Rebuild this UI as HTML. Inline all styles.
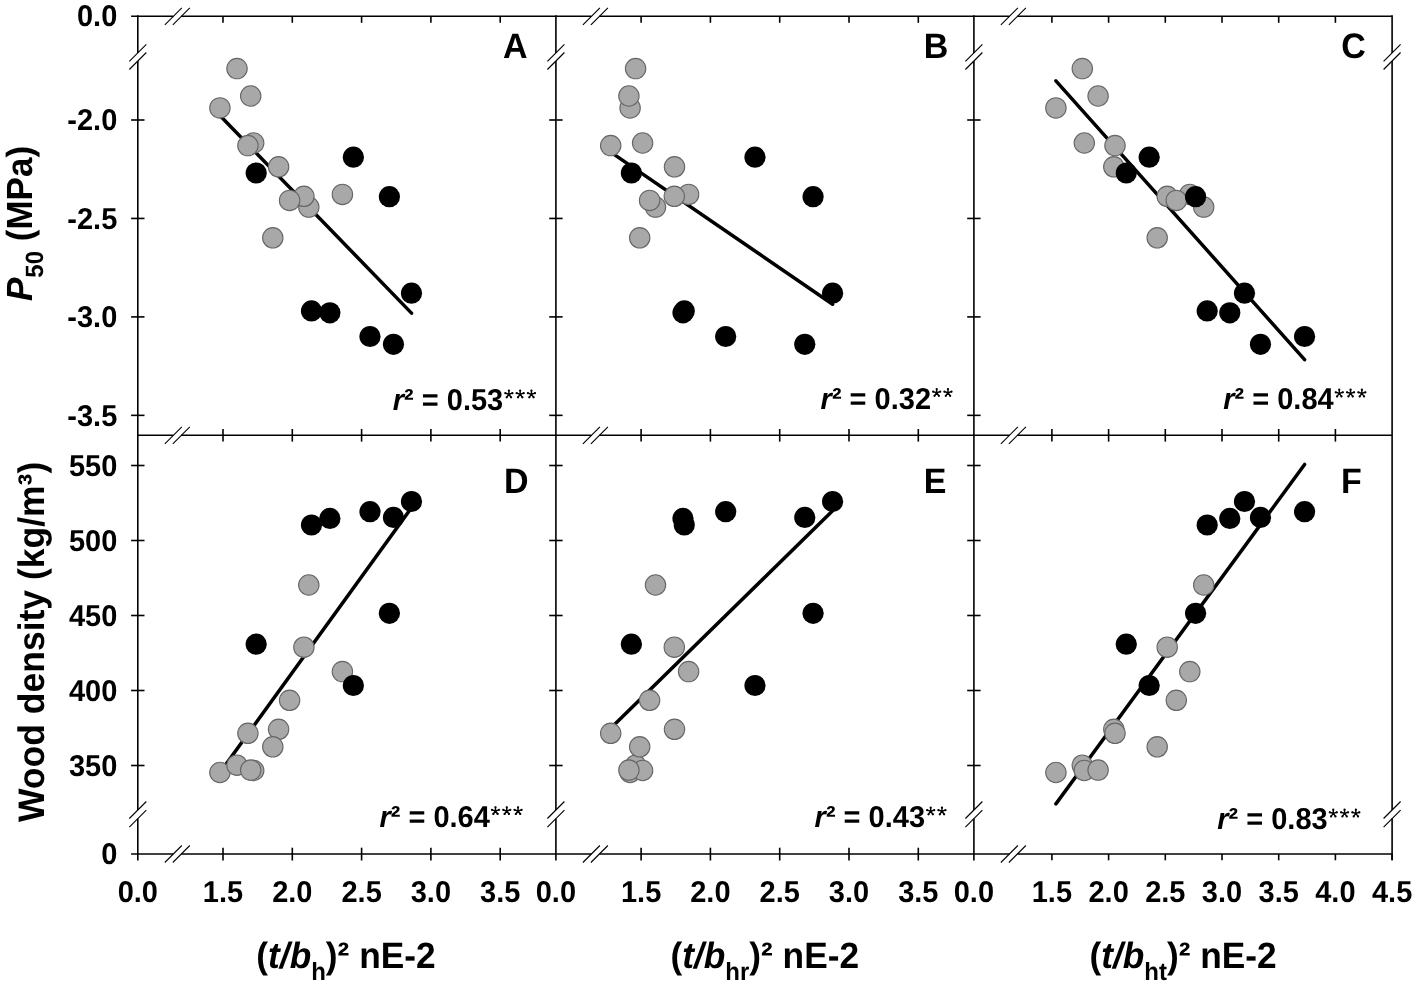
<!DOCTYPE html>
<html><head><meta charset="utf-8"><style>html,body{margin:0;padding:0;background:#fff;}svg{display:block;will-change:transform;}</style></head>
<body><svg width="1418" height="987" viewBox="0 0 1418 987" text-rendering="geometricPrecision">
<rect width="1418" height="987" fill="#fff"/>
<line x1="131.10" y1="16.30" x2="173.30" y2="16.30" stroke="#000" stroke-width="1.6" stroke-linecap="butt"/>
<line x1="181.30" y1="16.30" x2="555.90" y2="16.30" stroke="#000" stroke-width="1.6" stroke-linecap="butt"/>
<line x1="555.90" y1="16.30" x2="591.40" y2="16.30" stroke="#000" stroke-width="1.6" stroke-linecap="butt"/>
<line x1="599.40" y1="16.30" x2="973.90" y2="16.30" stroke="#000" stroke-width="1.6" stroke-linecap="butt"/>
<line x1="973.90" y1="16.30" x2="1009.40" y2="16.30" stroke="#000" stroke-width="1.6" stroke-linecap="butt"/>
<line x1="1017.40" y1="16.30" x2="1392.10" y2="16.30" stroke="#000" stroke-width="1.6" stroke-linecap="butt"/>
<line x1="164.80" y1="24.80" x2="181.80" y2="7.80" stroke="#000" stroke-width="1.1" stroke-linecap="butt"/>
<line x1="172.80" y1="24.80" x2="189.80" y2="7.80" stroke="#000" stroke-width="1.1" stroke-linecap="butt"/>
<line x1="582.90" y1="24.80" x2="599.90" y2="7.80" stroke="#000" stroke-width="1.1" stroke-linecap="butt"/>
<line x1="590.90" y1="24.80" x2="607.90" y2="7.80" stroke="#000" stroke-width="1.1" stroke-linecap="butt"/>
<line x1="1000.90" y1="24.80" x2="1017.90" y2="7.80" stroke="#000" stroke-width="1.1" stroke-linecap="butt"/>
<line x1="1008.90" y1="24.80" x2="1025.90" y2="7.80" stroke="#000" stroke-width="1.1" stroke-linecap="butt"/>
<line x1="137.80" y1="435.30" x2="173.30" y2="435.30" stroke="#000" stroke-width="1.6" stroke-linecap="butt"/>
<line x1="181.30" y1="435.30" x2="555.90" y2="435.30" stroke="#000" stroke-width="1.6" stroke-linecap="butt"/>
<line x1="555.90" y1="435.30" x2="591.40" y2="435.30" stroke="#000" stroke-width="1.6" stroke-linecap="butt"/>
<line x1="599.40" y1="435.30" x2="973.90" y2="435.30" stroke="#000" stroke-width="1.6" stroke-linecap="butt"/>
<line x1="973.90" y1="435.30" x2="1009.40" y2="435.30" stroke="#000" stroke-width="1.6" stroke-linecap="butt"/>
<line x1="1017.40" y1="435.30" x2="1392.10" y2="435.30" stroke="#000" stroke-width="1.6" stroke-linecap="butt"/>
<line x1="164.80" y1="443.80" x2="181.80" y2="426.80" stroke="#000" stroke-width="1.1" stroke-linecap="butt"/>
<line x1="172.80" y1="443.80" x2="189.80" y2="426.80" stroke="#000" stroke-width="1.1" stroke-linecap="butt"/>
<line x1="582.90" y1="443.80" x2="599.90" y2="426.80" stroke="#000" stroke-width="1.1" stroke-linecap="butt"/>
<line x1="590.90" y1="443.80" x2="607.90" y2="426.80" stroke="#000" stroke-width="1.1" stroke-linecap="butt"/>
<line x1="1000.90" y1="443.80" x2="1017.90" y2="426.80" stroke="#000" stroke-width="1.1" stroke-linecap="butt"/>
<line x1="1008.90" y1="443.80" x2="1025.90" y2="426.80" stroke="#000" stroke-width="1.1" stroke-linecap="butt"/>
<line x1="131.10" y1="854.00" x2="173.30" y2="854.00" stroke="#000" stroke-width="1.6" stroke-linecap="butt"/>
<line x1="181.30" y1="854.00" x2="555.90" y2="854.00" stroke="#000" stroke-width="1.6" stroke-linecap="butt"/>
<line x1="555.90" y1="854.00" x2="591.40" y2="854.00" stroke="#000" stroke-width="1.6" stroke-linecap="butt"/>
<line x1="599.40" y1="854.00" x2="973.90" y2="854.00" stroke="#000" stroke-width="1.6" stroke-linecap="butt"/>
<line x1="973.90" y1="854.00" x2="1009.40" y2="854.00" stroke="#000" stroke-width="1.6" stroke-linecap="butt"/>
<line x1="1017.40" y1="854.00" x2="1392.10" y2="854.00" stroke="#000" stroke-width="1.6" stroke-linecap="butt"/>
<line x1="164.80" y1="862.50" x2="181.80" y2="845.50" stroke="#000" stroke-width="1.1" stroke-linecap="butt"/>
<line x1="172.80" y1="862.50" x2="189.80" y2="845.50" stroke="#000" stroke-width="1.1" stroke-linecap="butt"/>
<line x1="582.90" y1="862.50" x2="599.90" y2="845.50" stroke="#000" stroke-width="1.1" stroke-linecap="butt"/>
<line x1="590.90" y1="862.50" x2="607.90" y2="845.50" stroke="#000" stroke-width="1.1" stroke-linecap="butt"/>
<line x1="1000.90" y1="862.50" x2="1017.90" y2="845.50" stroke="#000" stroke-width="1.1" stroke-linecap="butt"/>
<line x1="1008.90" y1="862.50" x2="1025.90" y2="845.50" stroke="#000" stroke-width="1.1" stroke-linecap="butt"/>
<line x1="137.80" y1="15.30" x2="137.80" y2="52.95" stroke="#000" stroke-width="1.6" stroke-linecap="butt"/>
<line x1="137.80" y1="61.00" x2="137.80" y2="810.00" stroke="#000" stroke-width="1.6" stroke-linecap="butt"/>
<line x1="137.80" y1="818.60" x2="137.80" y2="860.50" stroke="#000" stroke-width="1.6" stroke-linecap="butt"/>
<line x1="129.30" y1="61.45" x2="146.30" y2="44.45" stroke="#000" stroke-width="1.1" stroke-linecap="butt"/>
<line x1="129.30" y1="69.50" x2="146.30" y2="52.50" stroke="#000" stroke-width="1.1" stroke-linecap="butt"/>
<line x1="129.30" y1="818.50" x2="146.30" y2="801.50" stroke="#000" stroke-width="1.1" stroke-linecap="butt"/>
<line x1="129.30" y1="827.10" x2="146.30" y2="810.10" stroke="#000" stroke-width="1.1" stroke-linecap="butt"/>
<line x1="555.90" y1="15.30" x2="555.90" y2="52.95" stroke="#000" stroke-width="1.6" stroke-linecap="butt"/>
<line x1="555.90" y1="61.00" x2="555.90" y2="810.00" stroke="#000" stroke-width="1.6" stroke-linecap="butt"/>
<line x1="555.90" y1="818.60" x2="555.90" y2="860.50" stroke="#000" stroke-width="1.6" stroke-linecap="butt"/>
<line x1="547.40" y1="61.45" x2="564.40" y2="44.45" stroke="#000" stroke-width="1.1" stroke-linecap="butt"/>
<line x1="547.40" y1="69.50" x2="564.40" y2="52.50" stroke="#000" stroke-width="1.1" stroke-linecap="butt"/>
<line x1="547.40" y1="818.50" x2="564.40" y2="801.50" stroke="#000" stroke-width="1.1" stroke-linecap="butt"/>
<line x1="547.40" y1="827.10" x2="564.40" y2="810.10" stroke="#000" stroke-width="1.1" stroke-linecap="butt"/>
<line x1="973.90" y1="15.30" x2="973.90" y2="52.95" stroke="#000" stroke-width="1.6" stroke-linecap="butt"/>
<line x1="973.90" y1="61.00" x2="973.90" y2="810.00" stroke="#000" stroke-width="1.6" stroke-linecap="butt"/>
<line x1="973.90" y1="818.60" x2="973.90" y2="860.50" stroke="#000" stroke-width="1.6" stroke-linecap="butt"/>
<line x1="965.40" y1="61.45" x2="982.40" y2="44.45" stroke="#000" stroke-width="1.1" stroke-linecap="butt"/>
<line x1="965.40" y1="69.50" x2="982.40" y2="52.50" stroke="#000" stroke-width="1.1" stroke-linecap="butt"/>
<line x1="965.40" y1="818.50" x2="982.40" y2="801.50" stroke="#000" stroke-width="1.1" stroke-linecap="butt"/>
<line x1="965.40" y1="827.10" x2="982.40" y2="810.10" stroke="#000" stroke-width="1.1" stroke-linecap="butt"/>
<line x1="1392.10" y1="15.30" x2="1392.10" y2="52.95" stroke="#000" stroke-width="1.6" stroke-linecap="butt"/>
<line x1="1392.10" y1="61.00" x2="1392.10" y2="810.00" stroke="#000" stroke-width="1.6" stroke-linecap="butt"/>
<line x1="1392.10" y1="818.60" x2="1392.10" y2="860.20" stroke="#000" stroke-width="1.6" stroke-linecap="butt"/>
<line x1="1383.60" y1="61.45" x2="1400.60" y2="44.45" stroke="#000" stroke-width="1.1" stroke-linecap="butt"/>
<line x1="1383.60" y1="69.50" x2="1400.60" y2="52.50" stroke="#000" stroke-width="1.1" stroke-linecap="butt"/>
<line x1="1383.60" y1="818.50" x2="1400.60" y2="801.50" stroke="#000" stroke-width="1.1" stroke-linecap="butt"/>
<line x1="1383.60" y1="827.10" x2="1400.60" y2="810.10" stroke="#000" stroke-width="1.1" stroke-linecap="butt"/>
<line x1="131.10" y1="120.00" x2="144.50" y2="120.00" stroke="#000" stroke-width="1.6" stroke-linecap="butt"/>
<line x1="131.10" y1="218.45" x2="144.50" y2="218.45" stroke="#000" stroke-width="1.6" stroke-linecap="butt"/>
<line x1="131.10" y1="316.90" x2="144.50" y2="316.90" stroke="#000" stroke-width="1.6" stroke-linecap="butt"/>
<line x1="131.10" y1="415.35" x2="144.50" y2="415.35" stroke="#000" stroke-width="1.6" stroke-linecap="butt"/>
<line x1="131.10" y1="465.50" x2="144.50" y2="465.50" stroke="#000" stroke-width="1.6" stroke-linecap="butt"/>
<line x1="131.10" y1="540.50" x2="144.50" y2="540.50" stroke="#000" stroke-width="1.6" stroke-linecap="butt"/>
<line x1="131.10" y1="615.50" x2="144.50" y2="615.50" stroke="#000" stroke-width="1.6" stroke-linecap="butt"/>
<line x1="131.10" y1="690.50" x2="144.50" y2="690.50" stroke="#000" stroke-width="1.6" stroke-linecap="butt"/>
<line x1="131.10" y1="765.50" x2="144.50" y2="765.50" stroke="#000" stroke-width="1.6" stroke-linecap="butt"/>
<line x1="549.20" y1="120.00" x2="562.60" y2="120.00" stroke="#000" stroke-width="1.6" stroke-linecap="butt"/>
<line x1="549.20" y1="218.45" x2="562.60" y2="218.45" stroke="#000" stroke-width="1.6" stroke-linecap="butt"/>
<line x1="549.20" y1="316.90" x2="562.60" y2="316.90" stroke="#000" stroke-width="1.6" stroke-linecap="butt"/>
<line x1="549.20" y1="415.35" x2="562.60" y2="415.35" stroke="#000" stroke-width="1.6" stroke-linecap="butt"/>
<line x1="549.20" y1="465.50" x2="562.60" y2="465.50" stroke="#000" stroke-width="1.6" stroke-linecap="butt"/>
<line x1="549.20" y1="540.50" x2="562.60" y2="540.50" stroke="#000" stroke-width="1.6" stroke-linecap="butt"/>
<line x1="549.20" y1="615.50" x2="562.60" y2="615.50" stroke="#000" stroke-width="1.6" stroke-linecap="butt"/>
<line x1="549.20" y1="690.50" x2="562.60" y2="690.50" stroke="#000" stroke-width="1.6" stroke-linecap="butt"/>
<line x1="549.20" y1="765.50" x2="562.60" y2="765.50" stroke="#000" stroke-width="1.6" stroke-linecap="butt"/>
<line x1="967.20" y1="120.00" x2="980.60" y2="120.00" stroke="#000" stroke-width="1.6" stroke-linecap="butt"/>
<line x1="967.20" y1="218.45" x2="980.60" y2="218.45" stroke="#000" stroke-width="1.6" stroke-linecap="butt"/>
<line x1="967.20" y1="316.90" x2="980.60" y2="316.90" stroke="#000" stroke-width="1.6" stroke-linecap="butt"/>
<line x1="967.20" y1="415.35" x2="980.60" y2="415.35" stroke="#000" stroke-width="1.6" stroke-linecap="butt"/>
<line x1="967.20" y1="465.50" x2="980.60" y2="465.50" stroke="#000" stroke-width="1.6" stroke-linecap="butt"/>
<line x1="967.20" y1="540.50" x2="980.60" y2="540.50" stroke="#000" stroke-width="1.6" stroke-linecap="butt"/>
<line x1="967.20" y1="615.50" x2="980.60" y2="615.50" stroke="#000" stroke-width="1.6" stroke-linecap="butt"/>
<line x1="967.20" y1="690.50" x2="980.60" y2="690.50" stroke="#000" stroke-width="1.6" stroke-linecap="butt"/>
<line x1="967.20" y1="765.50" x2="980.60" y2="765.50" stroke="#000" stroke-width="1.6" stroke-linecap="butt"/>
<line x1="223.00" y1="429.00" x2="223.00" y2="441.60" stroke="#000" stroke-width="1.6" stroke-linecap="butt"/>
<line x1="223.00" y1="847.70" x2="223.00" y2="860.50" stroke="#000" stroke-width="1.6" stroke-linecap="butt"/>
<line x1="292.30" y1="429.00" x2="292.30" y2="441.60" stroke="#000" stroke-width="1.6" stroke-linecap="butt"/>
<line x1="292.30" y1="847.70" x2="292.30" y2="860.50" stroke="#000" stroke-width="1.6" stroke-linecap="butt"/>
<line x1="361.60" y1="429.00" x2="361.60" y2="441.60" stroke="#000" stroke-width="1.6" stroke-linecap="butt"/>
<line x1="361.60" y1="847.70" x2="361.60" y2="860.50" stroke="#000" stroke-width="1.6" stroke-linecap="butt"/>
<line x1="430.90" y1="429.00" x2="430.90" y2="441.60" stroke="#000" stroke-width="1.6" stroke-linecap="butt"/>
<line x1="430.90" y1="847.70" x2="430.90" y2="860.50" stroke="#000" stroke-width="1.6" stroke-linecap="butt"/>
<line x1="500.20" y1="429.00" x2="500.20" y2="441.60" stroke="#000" stroke-width="1.6" stroke-linecap="butt"/>
<line x1="500.20" y1="847.70" x2="500.20" y2="860.50" stroke="#000" stroke-width="1.6" stroke-linecap="butt"/>
<line x1="641.10" y1="429.00" x2="641.10" y2="441.60" stroke="#000" stroke-width="1.6" stroke-linecap="butt"/>
<line x1="641.10" y1="847.70" x2="641.10" y2="860.50" stroke="#000" stroke-width="1.6" stroke-linecap="butt"/>
<line x1="710.40" y1="429.00" x2="710.40" y2="441.60" stroke="#000" stroke-width="1.6" stroke-linecap="butt"/>
<line x1="710.40" y1="847.70" x2="710.40" y2="860.50" stroke="#000" stroke-width="1.6" stroke-linecap="butt"/>
<line x1="779.70" y1="429.00" x2="779.70" y2="441.60" stroke="#000" stroke-width="1.6" stroke-linecap="butt"/>
<line x1="779.70" y1="847.70" x2="779.70" y2="860.50" stroke="#000" stroke-width="1.6" stroke-linecap="butt"/>
<line x1="849.00" y1="429.00" x2="849.00" y2="441.60" stroke="#000" stroke-width="1.6" stroke-linecap="butt"/>
<line x1="849.00" y1="847.70" x2="849.00" y2="860.50" stroke="#000" stroke-width="1.6" stroke-linecap="butt"/>
<line x1="918.30" y1="429.00" x2="918.30" y2="441.60" stroke="#000" stroke-width="1.6" stroke-linecap="butt"/>
<line x1="918.30" y1="847.70" x2="918.30" y2="860.50" stroke="#000" stroke-width="1.6" stroke-linecap="butt"/>
<line x1="1051.90" y1="429.00" x2="1051.90" y2="441.60" stroke="#000" stroke-width="1.6" stroke-linecap="butt"/>
<line x1="1108.60" y1="429.00" x2="1108.60" y2="441.60" stroke="#000" stroke-width="1.6" stroke-linecap="butt"/>
<line x1="1165.30" y1="429.00" x2="1165.30" y2="441.60" stroke="#000" stroke-width="1.6" stroke-linecap="butt"/>
<line x1="1222.00" y1="429.00" x2="1222.00" y2="441.60" stroke="#000" stroke-width="1.6" stroke-linecap="butt"/>
<line x1="1278.70" y1="429.00" x2="1278.70" y2="441.60" stroke="#000" stroke-width="1.6" stroke-linecap="butt"/>
<line x1="1335.40" y1="429.00" x2="1335.40" y2="441.60" stroke="#000" stroke-width="1.6" stroke-linecap="butt"/>
<line x1="1051.90" y1="854.00" x2="1051.90" y2="860.30" stroke="#000" stroke-width="1.6" stroke-linecap="butt"/>
<line x1="1108.60" y1="854.00" x2="1108.60" y2="860.30" stroke="#000" stroke-width="1.6" stroke-linecap="butt"/>
<line x1="1165.30" y1="854.00" x2="1165.30" y2="860.30" stroke="#000" stroke-width="1.6" stroke-linecap="butt"/>
<line x1="1222.00" y1="854.00" x2="1222.00" y2="860.30" stroke="#000" stroke-width="1.6" stroke-linecap="butt"/>
<line x1="1278.70" y1="854.00" x2="1278.70" y2="860.30" stroke="#000" stroke-width="1.6" stroke-linecap="butt"/>
<line x1="1335.40" y1="854.00" x2="1335.40" y2="860.30" stroke="#000" stroke-width="1.6" stroke-linecap="butt"/>
<line x1="1392.10" y1="854.00" x2="1392.10" y2="860.30" stroke="#000" stroke-width="1.6" stroke-linecap="butt"/>
<line x1="223.00" y1="16.30" x2="223.00" y2="22.80" stroke="#000" stroke-width="1.6" stroke-linecap="butt"/>
<line x1="292.30" y1="16.30" x2="292.30" y2="22.80" stroke="#000" stroke-width="1.6" stroke-linecap="butt"/>
<line x1="361.60" y1="16.30" x2="361.60" y2="22.80" stroke="#000" stroke-width="1.6" stroke-linecap="butt"/>
<line x1="430.90" y1="16.30" x2="430.90" y2="22.80" stroke="#000" stroke-width="1.6" stroke-linecap="butt"/>
<line x1="500.20" y1="16.30" x2="500.20" y2="22.80" stroke="#000" stroke-width="1.6" stroke-linecap="butt"/>
<line x1="641.10" y1="16.30" x2="641.10" y2="22.80" stroke="#000" stroke-width="1.6" stroke-linecap="butt"/>
<line x1="710.40" y1="16.30" x2="710.40" y2="22.80" stroke="#000" stroke-width="1.6" stroke-linecap="butt"/>
<line x1="779.70" y1="16.30" x2="779.70" y2="22.80" stroke="#000" stroke-width="1.6" stroke-linecap="butt"/>
<line x1="849.00" y1="16.30" x2="849.00" y2="22.80" stroke="#000" stroke-width="1.6" stroke-linecap="butt"/>
<line x1="918.30" y1="16.30" x2="918.30" y2="22.80" stroke="#000" stroke-width="1.6" stroke-linecap="butt"/>
<line x1="1051.90" y1="16.30" x2="1051.90" y2="22.80" stroke="#000" stroke-width="1.6" stroke-linecap="butt"/>
<line x1="1108.60" y1="16.30" x2="1108.60" y2="22.80" stroke="#000" stroke-width="1.6" stroke-linecap="butt"/>
<line x1="1165.30" y1="16.30" x2="1165.30" y2="22.80" stroke="#000" stroke-width="1.6" stroke-linecap="butt"/>
<line x1="1222.00" y1="16.30" x2="1222.00" y2="22.80" stroke="#000" stroke-width="1.6" stroke-linecap="butt"/>
<line x1="1278.70" y1="16.30" x2="1278.70" y2="22.80" stroke="#000" stroke-width="1.6" stroke-linecap="butt"/>
<line x1="1335.40" y1="16.30" x2="1335.40" y2="22.80" stroke="#000" stroke-width="1.6" stroke-linecap="butt"/>
<line x1="219.90" y1="115.46" x2="411.50" y2="313.15" stroke="#000" stroke-width="3.5" stroke-linecap="round"/>
<circle cx="308.80" cy="207.10" r="10.2" fill="#a8a8a8" stroke="#666666" stroke-width="1.1"/>
<circle cx="342.40" cy="194.40" r="10.2" fill="#a8a8a8" stroke="#666666" stroke-width="1.1"/>
<circle cx="303.90" cy="196.30" r="10.2" fill="#a8a8a8" stroke="#666666" stroke-width="1.1"/>
<circle cx="289.60" cy="200.40" r="10.2" fill="#a8a8a8" stroke="#666666" stroke-width="1.1"/>
<circle cx="219.90" cy="107.90" r="10.2" fill="#a8a8a8" stroke="#666666" stroke-width="1.1"/>
<circle cx="237.00" cy="68.60" r="10.2" fill="#a8a8a8" stroke="#666666" stroke-width="1.1"/>
<circle cx="253.70" cy="143.00" r="10.2" fill="#a8a8a8" stroke="#666666" stroke-width="1.1"/>
<circle cx="250.70" cy="96.00" r="10.2" fill="#a8a8a8" stroke="#666666" stroke-width="1.1"/>
<circle cx="278.60" cy="166.80" r="10.2" fill="#a8a8a8" stroke="#666666" stroke-width="1.1"/>
<circle cx="247.90" cy="145.60" r="10.2" fill="#a8a8a8" stroke="#666666" stroke-width="1.1"/>
<circle cx="272.80" cy="237.80" r="10.2" fill="#a8a8a8" stroke="#666666" stroke-width="1.1"/>
<circle cx="256.20" cy="173.00" r="10.6" fill="#000"/>
<circle cx="353.40" cy="157.20" r="10.6" fill="#000"/>
<circle cx="389.40" cy="196.70" r="10.6" fill="#000"/>
<circle cx="311.50" cy="310.90" r="10.6" fill="#000"/>
<circle cx="329.90" cy="312.80" r="10.6" fill="#000"/>
<circle cx="411.50" cy="293.20" r="10.6" fill="#000"/>
<circle cx="370.00" cy="336.50" r="10.6" fill="#000"/>
<circle cx="393.50" cy="344.30" r="10.6" fill="#000"/>
<line x1="610.70" y1="152.07" x2="832.60" y2="304.27" stroke="#000" stroke-width="3.5" stroke-linecap="round"/>
<circle cx="655.50" cy="207.10" r="10.2" fill="#a8a8a8" stroke="#666666" stroke-width="1.1"/>
<circle cx="688.60" cy="194.40" r="10.2" fill="#a8a8a8" stroke="#666666" stroke-width="1.1"/>
<circle cx="674.30" cy="196.30" r="10.2" fill="#a8a8a8" stroke="#666666" stroke-width="1.1"/>
<circle cx="649.60" cy="200.40" r="10.2" fill="#a8a8a8" stroke="#666666" stroke-width="1.1"/>
<circle cx="630.10" cy="107.90" r="10.2" fill="#a8a8a8" stroke="#666666" stroke-width="1.1"/>
<circle cx="635.60" cy="68.60" r="10.2" fill="#a8a8a8" stroke="#666666" stroke-width="1.1"/>
<circle cx="642.60" cy="143.00" r="10.2" fill="#a8a8a8" stroke="#666666" stroke-width="1.1"/>
<circle cx="628.90" cy="96.00" r="10.2" fill="#a8a8a8" stroke="#666666" stroke-width="1.1"/>
<circle cx="674.50" cy="166.80" r="10.2" fill="#a8a8a8" stroke="#666666" stroke-width="1.1"/>
<circle cx="610.70" cy="145.60" r="10.2" fill="#a8a8a8" stroke="#666666" stroke-width="1.1"/>
<circle cx="639.70" cy="237.80" r="10.2" fill="#a8a8a8" stroke="#666666" stroke-width="1.1"/>
<circle cx="631.40" cy="173.00" r="10.6" fill="#000"/>
<circle cx="755.00" cy="157.20" r="10.6" fill="#000"/>
<circle cx="813.10" cy="196.70" r="10.6" fill="#000"/>
<circle cx="684.30" cy="310.90" r="10.6" fill="#000"/>
<circle cx="683.00" cy="312.80" r="10.6" fill="#000"/>
<circle cx="832.60" cy="293.20" r="10.6" fill="#000"/>
<circle cx="725.70" cy="336.50" r="10.6" fill="#000"/>
<circle cx="804.80" cy="344.30" r="10.6" fill="#000"/>
<line x1="1055.90" y1="80.83" x2="1304.60" y2="359.57" stroke="#000" stroke-width="3.5" stroke-linecap="round"/>
<circle cx="1203.70" cy="207.10" r="10.2" fill="#a8a8a8" stroke="#666666" stroke-width="1.1"/>
<circle cx="1189.80" cy="194.40" r="10.2" fill="#a8a8a8" stroke="#666666" stroke-width="1.1"/>
<circle cx="1167.20" cy="196.30" r="10.2" fill="#a8a8a8" stroke="#666666" stroke-width="1.1"/>
<circle cx="1176.30" cy="200.40" r="10.2" fill="#a8a8a8" stroke="#666666" stroke-width="1.1"/>
<circle cx="1055.90" cy="107.90" r="10.2" fill="#a8a8a8" stroke="#666666" stroke-width="1.1"/>
<circle cx="1082.30" cy="68.60" r="10.2" fill="#a8a8a8" stroke="#666666" stroke-width="1.1"/>
<circle cx="1084.30" cy="143.00" r="10.2" fill="#a8a8a8" stroke="#666666" stroke-width="1.1"/>
<circle cx="1098.10" cy="96.00" r="10.2" fill="#a8a8a8" stroke="#666666" stroke-width="1.1"/>
<circle cx="1113.80" cy="166.80" r="10.2" fill="#a8a8a8" stroke="#666666" stroke-width="1.1"/>
<circle cx="1115.00" cy="145.60" r="10.2" fill="#a8a8a8" stroke="#666666" stroke-width="1.1"/>
<circle cx="1157.20" cy="237.80" r="10.2" fill="#a8a8a8" stroke="#666666" stroke-width="1.1"/>
<circle cx="1126.30" cy="173.00" r="10.6" fill="#000"/>
<circle cx="1149.20" cy="157.20" r="10.6" fill="#000"/>
<circle cx="1195.60" cy="196.70" r="10.6" fill="#000"/>
<circle cx="1207.20" cy="310.90" r="10.6" fill="#000"/>
<circle cx="1229.80" cy="312.80" r="10.6" fill="#000"/>
<circle cx="1244.50" cy="293.20" r="10.6" fill="#000"/>
<circle cx="1304.60" cy="336.50" r="10.6" fill="#000"/>
<circle cx="1260.50" cy="344.30" r="10.6" fill="#000"/>
<line x1="219.90" y1="772.67" x2="411.50" y2="507.66" stroke="#000" stroke-width="3.5" stroke-linecap="round"/>
<circle cx="308.80" cy="585.00" r="10.2" fill="#a8a8a8" stroke="#666666" stroke-width="1.1"/>
<circle cx="342.40" cy="671.60" r="10.2" fill="#a8a8a8" stroke="#666666" stroke-width="1.1"/>
<circle cx="303.90" cy="647.20" r="10.2" fill="#a8a8a8" stroke="#666666" stroke-width="1.1"/>
<circle cx="289.60" cy="700.30" r="10.2" fill="#a8a8a8" stroke="#666666" stroke-width="1.1"/>
<circle cx="219.90" cy="772.50" r="10.2" fill="#a8a8a8" stroke="#666666" stroke-width="1.1"/>
<circle cx="237.00" cy="765.20" r="10.2" fill="#a8a8a8" stroke="#666666" stroke-width="1.1"/>
<circle cx="253.70" cy="770.50" r="10.2" fill="#a8a8a8" stroke="#666666" stroke-width="1.1"/>
<circle cx="250.70" cy="770.10" r="10.2" fill="#a8a8a8" stroke="#666666" stroke-width="1.1"/>
<circle cx="278.60" cy="729.30" r="10.2" fill="#a8a8a8" stroke="#666666" stroke-width="1.1"/>
<circle cx="247.90" cy="733.30" r="10.2" fill="#a8a8a8" stroke="#666666" stroke-width="1.1"/>
<circle cx="272.80" cy="746.80" r="10.2" fill="#a8a8a8" stroke="#666666" stroke-width="1.1"/>
<circle cx="256.20" cy="644.20" r="10.6" fill="#000"/>
<circle cx="353.40" cy="685.50" r="10.6" fill="#000"/>
<circle cx="389.40" cy="613.30" r="10.6" fill="#000"/>
<circle cx="311.50" cy="525.00" r="10.6" fill="#000"/>
<circle cx="329.90" cy="518.40" r="10.6" fill="#000"/>
<circle cx="411.50" cy="501.50" r="10.6" fill="#000"/>
<circle cx="370.00" cy="511.70" r="10.6" fill="#000"/>
<circle cx="393.50" cy="517.40" r="10.6" fill="#000"/>
<line x1="610.70" y1="728.22" x2="832.60" y2="510.79" stroke="#000" stroke-width="3.5" stroke-linecap="round"/>
<circle cx="655.50" cy="585.00" r="10.2" fill="#a8a8a8" stroke="#666666" stroke-width="1.1"/>
<circle cx="688.60" cy="671.60" r="10.2" fill="#a8a8a8" stroke="#666666" stroke-width="1.1"/>
<circle cx="674.30" cy="647.20" r="10.2" fill="#a8a8a8" stroke="#666666" stroke-width="1.1"/>
<circle cx="649.60" cy="700.30" r="10.2" fill="#a8a8a8" stroke="#666666" stroke-width="1.1"/>
<circle cx="630.10" cy="772.50" r="10.2" fill="#a8a8a8" stroke="#666666" stroke-width="1.1"/>
<circle cx="635.60" cy="765.20" r="10.2" fill="#a8a8a8" stroke="#666666" stroke-width="1.1"/>
<circle cx="642.60" cy="770.50" r="10.2" fill="#a8a8a8" stroke="#666666" stroke-width="1.1"/>
<circle cx="628.90" cy="770.10" r="10.2" fill="#a8a8a8" stroke="#666666" stroke-width="1.1"/>
<circle cx="674.50" cy="729.30" r="10.2" fill="#a8a8a8" stroke="#666666" stroke-width="1.1"/>
<circle cx="610.70" cy="733.30" r="10.2" fill="#a8a8a8" stroke="#666666" stroke-width="1.1"/>
<circle cx="639.70" cy="746.80" r="10.2" fill="#a8a8a8" stroke="#666666" stroke-width="1.1"/>
<circle cx="631.40" cy="644.20" r="10.6" fill="#000"/>
<circle cx="755.00" cy="685.50" r="10.6" fill="#000"/>
<circle cx="813.10" cy="613.30" r="10.6" fill="#000"/>
<circle cx="684.30" cy="525.00" r="10.6" fill="#000"/>
<circle cx="683.00" cy="518.40" r="10.6" fill="#000"/>
<circle cx="832.60" cy="501.50" r="10.6" fill="#000"/>
<circle cx="725.70" cy="511.70" r="10.6" fill="#000"/>
<circle cx="804.80" cy="517.40" r="10.6" fill="#000"/>
<line x1="1055.90" y1="803.90" x2="1304.60" y2="464.44" stroke="#000" stroke-width="3.5" stroke-linecap="round"/>
<circle cx="1203.70" cy="585.00" r="10.2" fill="#a8a8a8" stroke="#666666" stroke-width="1.1"/>
<circle cx="1189.80" cy="671.60" r="10.2" fill="#a8a8a8" stroke="#666666" stroke-width="1.1"/>
<circle cx="1167.20" cy="647.20" r="10.2" fill="#a8a8a8" stroke="#666666" stroke-width="1.1"/>
<circle cx="1176.30" cy="700.30" r="10.2" fill="#a8a8a8" stroke="#666666" stroke-width="1.1"/>
<circle cx="1055.90" cy="772.50" r="10.2" fill="#a8a8a8" stroke="#666666" stroke-width="1.1"/>
<circle cx="1082.30" cy="765.20" r="10.2" fill="#a8a8a8" stroke="#666666" stroke-width="1.1"/>
<circle cx="1084.30" cy="770.50" r="10.2" fill="#a8a8a8" stroke="#666666" stroke-width="1.1"/>
<circle cx="1098.10" cy="770.10" r="10.2" fill="#a8a8a8" stroke="#666666" stroke-width="1.1"/>
<circle cx="1113.80" cy="729.30" r="10.2" fill="#a8a8a8" stroke="#666666" stroke-width="1.1"/>
<circle cx="1115.00" cy="733.30" r="10.2" fill="#a8a8a8" stroke="#666666" stroke-width="1.1"/>
<circle cx="1157.20" cy="746.80" r="10.2" fill="#a8a8a8" stroke="#666666" stroke-width="1.1"/>
<circle cx="1126.30" cy="644.20" r="10.6" fill="#000"/>
<circle cx="1149.20" cy="685.50" r="10.6" fill="#000"/>
<circle cx="1195.60" cy="613.30" r="10.6" fill="#000"/>
<circle cx="1207.20" cy="525.00" r="10.6" fill="#000"/>
<circle cx="1229.80" cy="518.40" r="10.6" fill="#000"/>
<circle cx="1244.50" cy="501.50" r="10.6" fill="#000"/>
<circle cx="1304.60" cy="511.70" r="10.6" fill="#000"/>
<circle cx="1260.50" cy="517.40" r="10.6" fill="#000"/>
<text transform="translate(117.30,26.20) scale(1,1.04)" font-family="Liberation Sans, sans-serif" font-weight="bold" font-size="29" text-anchor="end" >0.0</text>
<text transform="translate(117.30,130.30) scale(1,1.04)" font-family="Liberation Sans, sans-serif" font-weight="bold" font-size="29" text-anchor="end" >-2.0</text>
<text transform="translate(117.30,228.75) scale(1,1.04)" font-family="Liberation Sans, sans-serif" font-weight="bold" font-size="29" text-anchor="end" >-2.5</text>
<text transform="translate(117.30,327.20) scale(1,1.04)" font-family="Liberation Sans, sans-serif" font-weight="bold" font-size="29" text-anchor="end" >-3.0</text>
<text transform="translate(117.30,425.65) scale(1,1.04)" font-family="Liberation Sans, sans-serif" font-weight="bold" font-size="29" text-anchor="end" >-3.5</text>
<text transform="translate(117.30,475.80) scale(1,1.04)" font-family="Liberation Sans, sans-serif" font-weight="bold" font-size="29" text-anchor="end" >550</text>
<text transform="translate(117.30,550.80) scale(1,1.04)" font-family="Liberation Sans, sans-serif" font-weight="bold" font-size="29" text-anchor="end" >500</text>
<text transform="translate(117.30,625.80) scale(1,1.04)" font-family="Liberation Sans, sans-serif" font-weight="bold" font-size="29" text-anchor="end" >450</text>
<text transform="translate(117.30,700.80) scale(1,1.04)" font-family="Liberation Sans, sans-serif" font-weight="bold" font-size="29" text-anchor="end" >400</text>
<text transform="translate(117.30,775.80) scale(1,1.04)" font-family="Liberation Sans, sans-serif" font-weight="bold" font-size="29" text-anchor="end" >350</text>
<text transform="translate(117.30,864.30) scale(1,1.04)" font-family="Liberation Sans, sans-serif" font-weight="bold" font-size="29" text-anchor="end" >0</text>
<text transform="translate(137.80,901.50) scale(1,1.04)" font-family="Liberation Sans, sans-serif" font-weight="bold" font-size="29" text-anchor="middle" >0.0</text>
<text transform="translate(223.00,901.50) scale(1,1.04)" font-family="Liberation Sans, sans-serif" font-weight="bold" font-size="29" text-anchor="middle" >1.5</text>
<text transform="translate(292.30,901.50) scale(1,1.04)" font-family="Liberation Sans, sans-serif" font-weight="bold" font-size="29" text-anchor="middle" >2.0</text>
<text transform="translate(361.60,901.50) scale(1,1.04)" font-family="Liberation Sans, sans-serif" font-weight="bold" font-size="29" text-anchor="middle" >2.5</text>
<text transform="translate(430.90,901.50) scale(1,1.04)" font-family="Liberation Sans, sans-serif" font-weight="bold" font-size="29" text-anchor="middle" >3.0</text>
<text transform="translate(500.20,901.50) scale(1,1.04)" font-family="Liberation Sans, sans-serif" font-weight="bold" font-size="29" text-anchor="middle" >3.5</text>
<text transform="translate(555.90,901.50) scale(1,1.04)" font-family="Liberation Sans, sans-serif" font-weight="bold" font-size="29" text-anchor="middle" >0.0</text>
<text transform="translate(641.10,901.50) scale(1,1.04)" font-family="Liberation Sans, sans-serif" font-weight="bold" font-size="29" text-anchor="middle" >1.5</text>
<text transform="translate(710.40,901.50) scale(1,1.04)" font-family="Liberation Sans, sans-serif" font-weight="bold" font-size="29" text-anchor="middle" >2.0</text>
<text transform="translate(779.70,901.50) scale(1,1.04)" font-family="Liberation Sans, sans-serif" font-weight="bold" font-size="29" text-anchor="middle" >2.5</text>
<text transform="translate(849.00,901.50) scale(1,1.04)" font-family="Liberation Sans, sans-serif" font-weight="bold" font-size="29" text-anchor="middle" >3.0</text>
<text transform="translate(918.30,901.50) scale(1,1.04)" font-family="Liberation Sans, sans-serif" font-weight="bold" font-size="29" text-anchor="middle" >3.5</text>
<text transform="translate(973.90,901.50) scale(1,1.04)" font-family="Liberation Sans, sans-serif" font-weight="bold" font-size="29" text-anchor="middle" >0.0</text>
<text transform="translate(1051.90,901.50) scale(1,1.04)" font-family="Liberation Sans, sans-serif" font-weight="bold" font-size="29" text-anchor="middle" >1.5</text>
<text transform="translate(1108.60,901.50) scale(1,1.04)" font-family="Liberation Sans, sans-serif" font-weight="bold" font-size="29" text-anchor="middle" >2.0</text>
<text transform="translate(1165.30,901.50) scale(1,1.04)" font-family="Liberation Sans, sans-serif" font-weight="bold" font-size="29" text-anchor="middle" >2.5</text>
<text transform="translate(1222.00,901.50) scale(1,1.04)" font-family="Liberation Sans, sans-serif" font-weight="bold" font-size="29" text-anchor="middle" >3.0</text>
<text transform="translate(1278.70,901.50) scale(1,1.04)" font-family="Liberation Sans, sans-serif" font-weight="bold" font-size="29" text-anchor="middle" >3.5</text>
<text transform="translate(1335.40,901.50) scale(1,1.04)" font-family="Liberation Sans, sans-serif" font-weight="bold" font-size="29" text-anchor="middle" >4.0</text>
<text transform="translate(1392.10,901.50) scale(1,1.04)" font-family="Liberation Sans, sans-serif" font-weight="bold" font-size="29" text-anchor="middle" >4.5</text>
<text transform="translate(503.10,58.20) scale(1,1.04)" font-family="Liberation Sans, sans-serif" font-weight="bold" font-size="34" text-anchor="start" >A</text>
<text transform="translate(923.70,58.20) scale(1,1.04)" font-family="Liberation Sans, sans-serif" font-weight="bold" font-size="34" text-anchor="start" >B</text>
<text transform="translate(1341.20,58.20) scale(1,1.04)" font-family="Liberation Sans, sans-serif" font-weight="bold" font-size="34" text-anchor="start" >C</text>
<text transform="translate(504.10,492.90) scale(1,1.04)" font-family="Liberation Sans, sans-serif" font-weight="bold" font-size="34" text-anchor="start" >D</text>
<text transform="translate(923.70,492.90) scale(1,1.04)" font-family="Liberation Sans, sans-serif" font-weight="bold" font-size="34" text-anchor="start" >E</text>
<text transform="translate(1341.10,492.90) scale(1,1.04)" font-family="Liberation Sans, sans-serif" font-weight="bold" font-size="34" text-anchor="start" >F</text>
<text transform="translate(392.80,410.00) scale(1,1.04)" font-family="Liberation Sans, sans-serif" font-weight="bold" font-size="29"><tspan font-style="italic">r</tspan>² = 0.53</text>
<g fill="#000"><path d="M508.88,394.30L508.88,390.60M508.88,394.30L512.40,393.16M508.88,394.30L511.05,397.29M508.88,394.30L506.70,397.29M508.88,394.30L505.36,393.16" stroke="#000" stroke-width="1.45" stroke-linecap="round" fill="none"/><circle cx="508.88" cy="390.60" r="1.12"/><circle cx="512.40" cy="393.16" r="1.12"/><circle cx="511.05" cy="397.29" r="1.12"/><circle cx="506.70" cy="397.29" r="1.12"/><circle cx="505.36" cy="393.16" r="1.12"/></g>
<g fill="#000"><path d="M520.16,394.30L520.16,390.60M520.16,394.30L523.68,393.16M520.16,394.30L522.34,397.29M520.16,394.30L517.99,397.29M520.16,394.30L516.65,393.16" stroke="#000" stroke-width="1.45" stroke-linecap="round" fill="none"/><circle cx="520.16" cy="390.60" r="1.12"/><circle cx="523.68" cy="393.16" r="1.12"/><circle cx="522.34" cy="397.29" r="1.12"/><circle cx="517.99" cy="397.29" r="1.12"/><circle cx="516.65" cy="393.16" r="1.12"/></g>
<g fill="#000"><path d="M531.45,394.30L531.45,390.60M531.45,394.30L534.97,393.16M531.45,394.30L533.62,397.29M531.45,394.30L529.28,397.29M531.45,394.30L527.93,393.16" stroke="#000" stroke-width="1.45" stroke-linecap="round" fill="none"/><circle cx="531.45" cy="390.60" r="1.12"/><circle cx="534.97" cy="393.16" r="1.12"/><circle cx="533.62" cy="397.29" r="1.12"/><circle cx="529.28" cy="397.29" r="1.12"/><circle cx="527.93" cy="393.16" r="1.12"/></g>
<text transform="translate(820.60,408.50) scale(1,1.04)" font-family="Liberation Sans, sans-serif" font-weight="bold" font-size="29"><tspan font-style="italic">r</tspan>² = 0.32</text>
<g fill="#000"><path d="M936.68,392.80L936.68,389.10M936.68,392.80L940.20,391.66M936.68,392.80L938.85,395.79M936.68,392.80L934.50,395.79M936.68,392.80L933.16,391.66" stroke="#000" stroke-width="1.45" stroke-linecap="round" fill="none"/><circle cx="936.68" cy="389.10" r="1.12"/><circle cx="940.20" cy="391.66" r="1.12"/><circle cx="938.85" cy="395.79" r="1.12"/><circle cx="934.50" cy="395.79" r="1.12"/><circle cx="933.16" cy="391.66" r="1.12"/></g>
<g fill="#000"><path d="M947.96,392.80L947.96,389.10M947.96,392.80L951.48,391.66M947.96,392.80L950.14,395.79M947.96,392.80L945.79,395.79M947.96,392.80L944.45,391.66" stroke="#000" stroke-width="1.45" stroke-linecap="round" fill="none"/><circle cx="947.96" cy="389.10" r="1.12"/><circle cx="951.48" cy="391.66" r="1.12"/><circle cx="950.14" cy="395.79" r="1.12"/><circle cx="945.79" cy="395.79" r="1.12"/><circle cx="944.45" cy="391.66" r="1.12"/></g>
<text transform="translate(1223.20,409.10) scale(1,1.04)" font-family="Liberation Sans, sans-serif" font-weight="bold" font-size="29"><tspan font-style="italic">r</tspan>² = 0.84</text>
<g fill="#000"><path d="M1339.28,393.40L1339.28,389.70M1339.28,393.40L1342.80,392.26M1339.28,393.40L1341.45,396.39M1339.28,393.40L1337.10,396.39M1339.28,393.40L1335.76,392.26" stroke="#000" stroke-width="1.45" stroke-linecap="round" fill="none"/><circle cx="1339.28" cy="389.70" r="1.12"/><circle cx="1342.80" cy="392.26" r="1.12"/><circle cx="1341.45" cy="396.39" r="1.12"/><circle cx="1337.10" cy="396.39" r="1.12"/><circle cx="1335.76" cy="392.26" r="1.12"/></g>
<g fill="#000"><path d="M1350.56,393.40L1350.56,389.70M1350.56,393.40L1354.08,392.26M1350.56,393.40L1352.74,396.39M1350.56,393.40L1348.39,396.39M1350.56,393.40L1347.05,392.26" stroke="#000" stroke-width="1.45" stroke-linecap="round" fill="none"/><circle cx="1350.56" cy="389.70" r="1.12"/><circle cx="1354.08" cy="392.26" r="1.12"/><circle cx="1352.74" cy="396.39" r="1.12"/><circle cx="1348.39" cy="396.39" r="1.12"/><circle cx="1347.05" cy="392.26" r="1.12"/></g>
<g fill="#000"><path d="M1361.85,393.40L1361.85,389.70M1361.85,393.40L1365.37,392.26M1361.85,393.40L1364.02,396.39M1361.85,393.40L1359.68,396.39M1361.85,393.40L1358.33,392.26" stroke="#000" stroke-width="1.45" stroke-linecap="round" fill="none"/><circle cx="1361.85" cy="389.70" r="1.12"/><circle cx="1365.37" cy="392.26" r="1.12"/><circle cx="1364.02" cy="396.39" r="1.12"/><circle cx="1359.68" cy="396.39" r="1.12"/><circle cx="1358.33" cy="392.26" r="1.12"/></g>
<text transform="translate(379.40,826.70) scale(1,1.04)" font-family="Liberation Sans, sans-serif" font-weight="bold" font-size="29"><tspan font-style="italic">r</tspan>² = 0.64</text>
<g fill="#000"><path d="M495.48,811.00L495.48,807.30M495.48,811.00L499.00,809.86M495.48,811.00L497.65,813.99M495.48,811.00L493.30,813.99M495.48,811.00L491.96,809.86" stroke="#000" stroke-width="1.45" stroke-linecap="round" fill="none"/><circle cx="495.48" cy="807.30" r="1.12"/><circle cx="499.00" cy="809.86" r="1.12"/><circle cx="497.65" cy="813.99" r="1.12"/><circle cx="493.30" cy="813.99" r="1.12"/><circle cx="491.96" cy="809.86" r="1.12"/></g>
<g fill="#000"><path d="M506.76,811.00L506.76,807.30M506.76,811.00L510.28,809.86M506.76,811.00L508.94,813.99M506.76,811.00L504.59,813.99M506.76,811.00L503.25,809.86" stroke="#000" stroke-width="1.45" stroke-linecap="round" fill="none"/><circle cx="506.76" cy="807.30" r="1.12"/><circle cx="510.28" cy="809.86" r="1.12"/><circle cx="508.94" cy="813.99" r="1.12"/><circle cx="504.59" cy="813.99" r="1.12"/><circle cx="503.25" cy="809.86" r="1.12"/></g>
<g fill="#000"><path d="M518.05,811.00L518.05,807.30M518.05,811.00L521.57,809.86M518.05,811.00L520.22,813.99M518.05,811.00L515.88,813.99M518.05,811.00L514.53,809.86" stroke="#000" stroke-width="1.45" stroke-linecap="round" fill="none"/><circle cx="518.05" cy="807.30" r="1.12"/><circle cx="521.57" cy="809.86" r="1.12"/><circle cx="520.22" cy="813.99" r="1.12"/><circle cx="515.88" cy="813.99" r="1.12"/><circle cx="514.53" cy="809.86" r="1.12"/></g>
<text transform="translate(814.60,827.00) scale(1,1.04)" font-family="Liberation Sans, sans-serif" font-weight="bold" font-size="29"><tspan font-style="italic">r</tspan>² = 0.43</text>
<g fill="#000"><path d="M930.68,811.30L930.68,807.60M930.68,811.30L934.20,810.16M930.68,811.30L932.85,814.29M930.68,811.30L928.50,814.29M930.68,811.30L927.16,810.16" stroke="#000" stroke-width="1.45" stroke-linecap="round" fill="none"/><circle cx="930.68" cy="807.60" r="1.12"/><circle cx="934.20" cy="810.16" r="1.12"/><circle cx="932.85" cy="814.29" r="1.12"/><circle cx="928.50" cy="814.29" r="1.12"/><circle cx="927.16" cy="810.16" r="1.12"/></g>
<g fill="#000"><path d="M941.96,811.30L941.96,807.60M941.96,811.30L945.48,810.16M941.96,811.30L944.14,814.29M941.96,811.30L939.79,814.29M941.96,811.30L938.45,810.16" stroke="#000" stroke-width="1.45" stroke-linecap="round" fill="none"/><circle cx="941.96" cy="807.60" r="1.12"/><circle cx="945.48" cy="810.16" r="1.12"/><circle cx="944.14" cy="814.29" r="1.12"/><circle cx="939.79" cy="814.29" r="1.12"/><circle cx="938.45" cy="810.16" r="1.12"/></g>
<text transform="translate(1217.20,829.10) scale(1,1.04)" font-family="Liberation Sans, sans-serif" font-weight="bold" font-size="29"><tspan font-style="italic">r</tspan>² = 0.83</text>
<g fill="#000"><path d="M1333.28,813.40L1333.28,809.70M1333.28,813.40L1336.80,812.26M1333.28,813.40L1335.45,816.39M1333.28,813.40L1331.10,816.39M1333.28,813.40L1329.76,812.26" stroke="#000" stroke-width="1.45" stroke-linecap="round" fill="none"/><circle cx="1333.28" cy="809.70" r="1.12"/><circle cx="1336.80" cy="812.26" r="1.12"/><circle cx="1335.45" cy="816.39" r="1.12"/><circle cx="1331.10" cy="816.39" r="1.12"/><circle cx="1329.76" cy="812.26" r="1.12"/></g>
<g fill="#000"><path d="M1344.56,813.40L1344.56,809.70M1344.56,813.40L1348.08,812.26M1344.56,813.40L1346.74,816.39M1344.56,813.40L1342.39,816.39M1344.56,813.40L1341.05,812.26" stroke="#000" stroke-width="1.45" stroke-linecap="round" fill="none"/><circle cx="1344.56" cy="809.70" r="1.12"/><circle cx="1348.08" cy="812.26" r="1.12"/><circle cx="1346.74" cy="816.39" r="1.12"/><circle cx="1342.39" cy="816.39" r="1.12"/><circle cx="1341.05" cy="812.26" r="1.12"/></g>
<g fill="#000"><path d="M1355.85,813.40L1355.85,809.70M1355.85,813.40L1359.37,812.26M1355.85,813.40L1358.02,816.39M1355.85,813.40L1353.68,816.39M1355.85,813.40L1352.33,812.26" stroke="#000" stroke-width="1.45" stroke-linecap="round" fill="none"/><circle cx="1355.85" cy="809.70" r="1.12"/><circle cx="1359.37" cy="812.26" r="1.12"/><circle cx="1358.02" cy="816.39" r="1.12"/><circle cx="1353.68" cy="816.39" r="1.12"/><circle cx="1352.33" cy="812.26" r="1.12"/></g>
<text transform="translate(32,301) rotate(-90) scale(1,1.04)" font-family="Liberation Sans, sans-serif" font-weight="bold" font-size="35"><tspan font-style="italic">P</tspan><tspan font-size="24" dy="11">50</tspan><tspan dy="-11"> (MPa)</tspan></text>
<text transform="translate(44.3,822) rotate(-90) scale(1,1.04)" font-family="Liberation Sans, sans-serif" font-weight="bold" font-size="35.5">Wood density (kg/m³)</text>
<text transform="translate(256.30,968.0) scale(1,1.04)" font-family="Liberation Sans, sans-serif" font-weight="bold" font-size="35.3">(<tspan font-style="italic">t/b</tspan><tspan font-size="24" dy="12">h</tspan><tspan dy="-12">)² nE-2</tspan></text>
<text transform="translate(670.40,968.0) scale(1,1.04)" font-family="Liberation Sans, sans-serif" font-weight="bold" font-size="35.3">(<tspan font-style="italic">t/b</tspan><tspan font-size="24" dy="12">hr</tspan><tspan dy="-12">)² nE-2</tspan></text>
<text transform="translate(1089.40,968.0) scale(1,1.04)" font-family="Liberation Sans, sans-serif" font-weight="bold" font-size="35.3">(<tspan font-style="italic">t/b</tspan><tspan font-size="24" dy="12">ht</tspan><tspan dy="-12">)² nE-2</tspan></text>
</svg></body></html>
